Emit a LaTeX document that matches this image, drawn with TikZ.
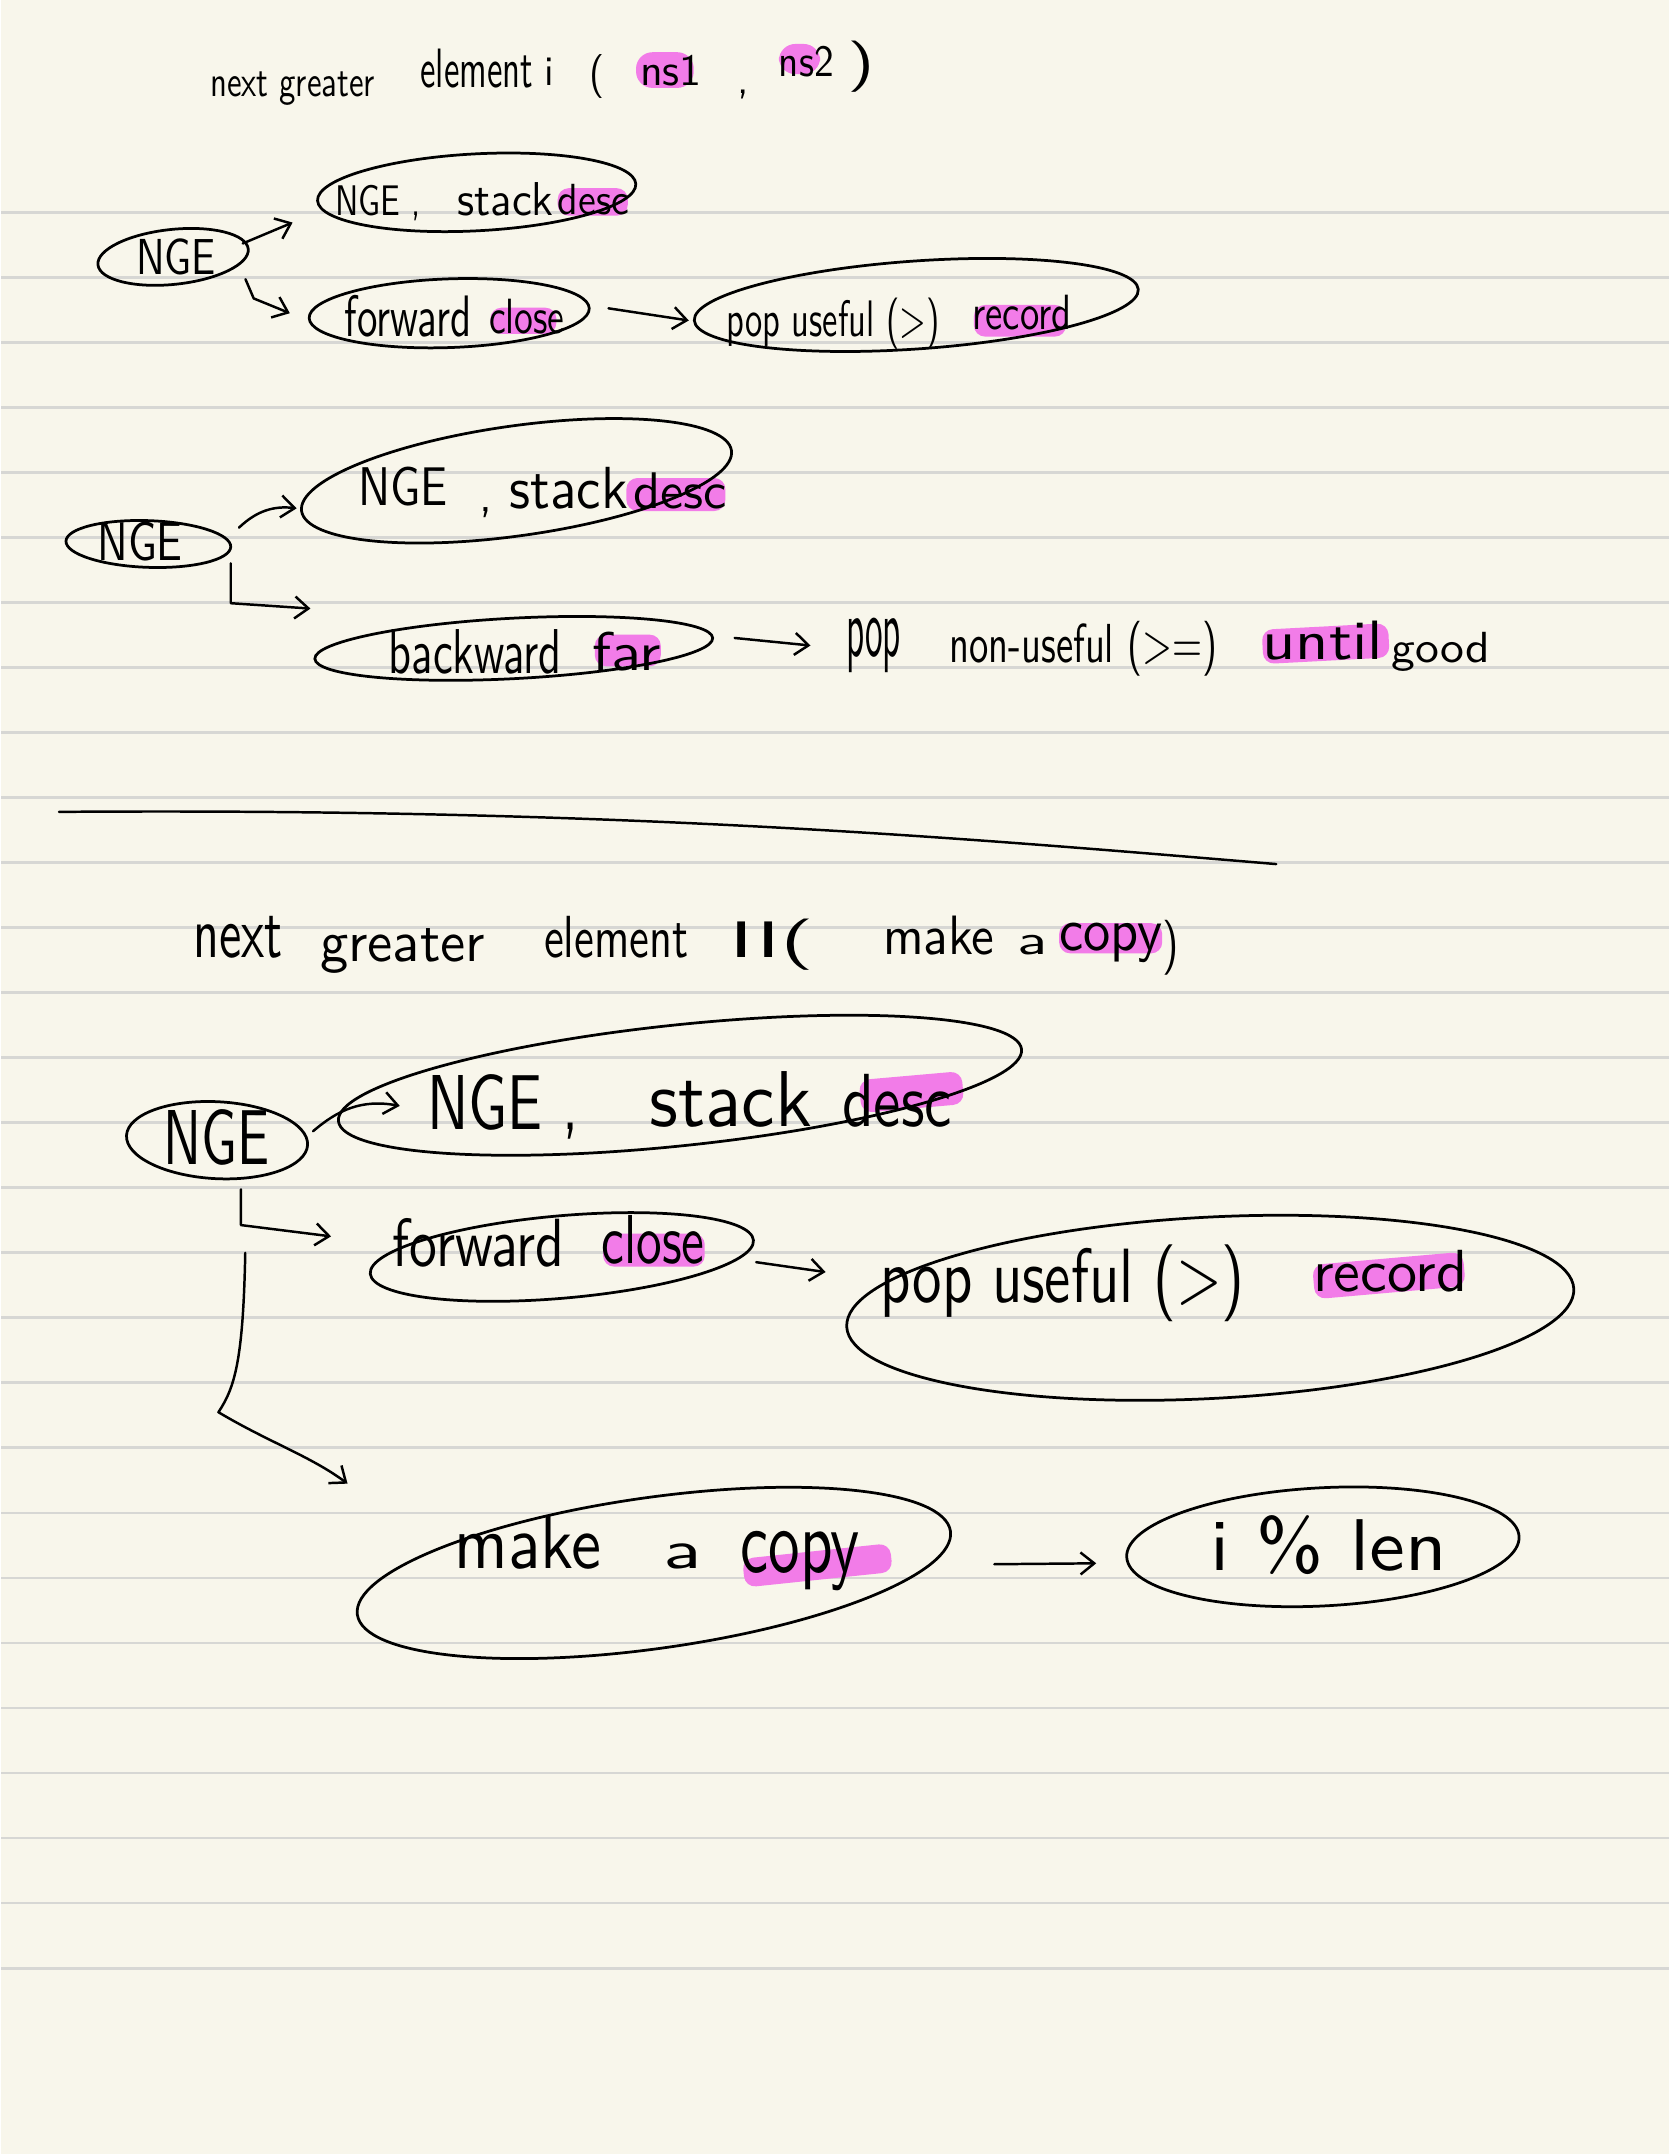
\documentclass[tikz,border=0pt]{standalone}
\usepackage{graphicx}
\usetikzlibrary{shapes.geometric,arrows.meta,calc}
\definecolor{paper}{HTML}{F8F6EB}
\definecolor{rulecol}{HTML}{D7D7D4}
\definecolor{hl}{HTML}{F27CE8}
\newlength\unitS
\setlength\unitS{0.5pt}
\newcommand{\hw}[3]{\resizebox{#1\unitS}{#2\unitS}{\sffamily #3}}
\tikzset{
  oval/.style={draw, ellipse, line width=1pt, inner sep=0pt, outer sep=0pt},
  txt/.style={inner sep=0pt, outer sep=0pt, anchor=base west},
  harrow/.style={draw, line width=0.9pt, line cap=round, line join=round, -{Straight Barb[length=5pt,width=8pt]}},
  pen/.style={line width=0.9pt, line cap=round},
  rulel/.style={rulecol, line width=1pt},
  hlbox/.style={fill=hl, rounded corners=4pt}
}
\begin{document}
\begin{tikzpicture}[x=0.5pt, y=-0.5pt]
\fill[paper] (0,0) rectangle (1214,1568);
\foreach \k in {0,...,27} \draw[rulel] (0,{154.5+47.34*\k}) -- (1214,{154.5+47.34*\k});

% highlights
\fill[hlbox, rounded corners=6pt] (462,38) rectangle (504,64);
\fill[hlbox, rounded corners=6pt] (566,32) rectangle (596,54);
\fill[hlbox] (405,137) rectangle (456,157);
\fill[hlbox] (356,224) rectangle (404,243);
\fill[hlbox] (708,222) rectangle (775,245);
\fill[hlbox] (455,348) rectangle (527,372);
\fill[hlbox] (432,462) rectangle (480,485);
\fill[hlbox, rotate around={3:(964,468)}] (918,456) rectangle (1010,481);
\fill[hlbox] (770,672) rectangle (845,694);
\fill[hlbox, rotate around={5:(662,795)}] (625,783) rectangle (700,807);
\fill[hlbox] (438,898) rectangle (512,922);
\fill[hlbox, rotate around={5:(1010,928)}] (955,916) rectangle (1065,941);
\fill[hlbox, rotate around={6:(594,1139)}] (540,1129) rectangle (648,1150);

% title 1
\node[txt] (t1a) at (152,70) {\hw{120}{18}{next greater}};
\node[txt] (t1b) at (305,64) {\hw{82}{28}{element}};
\node[txt] (t1c) at (395,62) {\hw{7}{20}{i}};
\node[txt] (t1d) at (428,64) {\hw{11}{24}{(}};
\node[txt] (t1e) at (465,62) {\hw{45}{22}{ns1}};
\node[txt, font=\sffamily\fontsize{16}{16}\selectfont] (t1f) at (536,68) {,};
\node[txt] (t1g) at (566,56) {\hw{40}{22}{ns2}};
\node[txt] (t1h) at (616,58) {\hw{20}{28}{)}};

% section 1
\node[oval, minimum width=55pt, minimum height=20pt, rotate=6] (nge1) at (125,187) {};
\node[oval, minimum width=116pt, minimum height=28pt, rotate=3] (desc1) at (346,140) {};
\node[oval, minimum width=102pt, minimum height=25pt, rotate=2] (fc1) at (326,228) {};
\node[oval, minimum width=162pt, minimum height=32pt, rotate=4] (pu1) at (666,222) {};
\node[txt] (n1t) at (98,200) {\hw{58}{26}{NGE}};
\node[txt] (d1a) at (243,157) {\hw{62}{22}{NGE ,}};
\node[txt] (d1b) at (332,157) {\hw{70}{24}{stack}};
\node[txt] (d1c) at (405,156) {\hw{52}{22}{desc}};
\node[txt] (f1a) at (250,245) {\hw{92}{30}{forward}};
\node[txt] (f1b) at (355,243) {\hw{55}{25}{close}};
\node[txt] (p1a) at (528,245) {\hw{155}{28}{pop useful (>)}};
\node[txt] (p1b) at (707,240) {\hw{72}{25}{record}};
\coordinate (a1h) at (212,162);
\coordinate (a2h) at (210,228);
\draw[harrow] ([xshift=-2pt,yshift=2pt]nge1.east) -- (a1h);
\draw[harrow] ([xshift=-1pt,yshift=-11pt]nge1.east) -- ++(6,14) -- (a2h);
\draw[harrow] ([xshift=7pt]fc1.east) -- ([xshift=-2pt]pu1.west);

% section 2
\node[oval, minimum width=60pt, minimum height=17pt, rotate=-2] (nge2) at (107,396) {};
\node[oval, minimum width=158pt, minimum height=40pt, rotate=8] (desc2) at (375,350) {};
\node[oval, minimum width=145pt, minimum height=22pt, rotate=3] (bf2) at (373,472) {};
\node[txt] (n2t) at (70,408) {\hw{62}{28}{NGE}};
\node[txt] (d2a) at (260,368) {\hw{65}{28}{NGE}};
\node[txt, font=\sffamily\fontsize{18}{18}\selectfont] (d2p) at (348,372) {,};
\node[txt] (d2b) at (370,370) {\hw{86}{30}{stack}};
\node[txt] (d2c) at (460,370) {\hw{68}{26}{desc}};
\node[txt] (b2a) at (282,490) {\hw{126}{32}{backward}};
\node[txt] (b2b) at (430,488) {\hw{50}{28}{far}};
\node[txt] (g2a) at (615,478) {\hw{40}{28}{pop}};
\node[txt] (g2b) at (690,482) {\hw{195}{30}{non-useful (>=)}};
\node[txt] (g2c) at (918,480) {\hw{88}{28}{until}};
\node[txt] (g2d) at (1012,482) {\hw{72}{22}{good}};
\coordinate (a4h) at (215,370);
\coordinate (a5h) at (225,443);
\draw[harrow] ([xshift=3pt,yshift=7pt]nge2.east) to[bend left=25] (a4h);
\draw[harrow] ([xshift=0pt,yshift=-6pt]nge2.east) -- ++(0,29) -- (a5h);
\draw[harrow] ([xshift=8pt]bf2.east) -- ([xshift=-13pt]g2a.west);

% divider
\coordinate (d0) at (42,591);
\coordinate (d1) at (928,629);
\draw[pen] (d0) .. controls (450,588) and (700,610) .. (d1);

% title 2
\node[txt] (t2a) at (140,697) {\hw{65}{30}{next}};
\node[txt] (t2b) at (232,700) {\hw{120}{24}{greater}};
\node[txt] (t2c) at (395,697) {\hw{105}{30}{element}};
\node[txt] (t2d) at (530,697) {\hw{62}{28}{II(}};
\node[txt] (t2e) at (642,695) {\hw{81}{28}{make}};
\node[txt] (t2f) at (740,695) {\hw{22}{14}{a}};
\node[txt] (t2g) at (770,692) {\hw{75}{20}{copy}};
\node[txt] (t2h) at (845,700) {\hw{12}{30}{)}};

% section 3
\node[oval, minimum width=66pt, minimum height=28pt, rotate=-3] (nge3) at (157,830) {};
\node[oval, minimum width=250pt, minimum height=44pt, rotate=6] (desc3) at (494,790) {};
\node[oval, minimum width=140pt, minimum height=30pt, rotate=5] (fc3) at (408,915) {};
\node[oval, minimum width=265pt, minimum height=66pt, rotate=3] (pu3) at (880,952) {};
\node[oval, minimum width=218pt, minimum height=55pt, rotate=8] (mc3) at (475,1145) {};
\node[oval, minimum width=143pt, minimum height=43pt, rotate=3] (il3) at (962,1126) {};
\node[txt] (n3t) at (118,848) {\hw{77}{40}{NGE}};
\node[txt] (d3a) at (310,822) {\hw{110}{40}{NGE ,}};
\node[txt] (d3b) at (472,820) {\hw{118}{40}{stack}};
\node[txt] (d3c) at (612,820) {\hw{80}{38}{desc}};
\node[txt] (f3a) at (285,922) {\hw{125}{35}{forward}};
\node[txt] (f3b) at (437,920) {\hw{75}{35}{close}};
\node[txt] (p3a) at (640,948) {\hw{265}{42}{pop useful (>)}};
\node[txt] (p3b) at (955,940) {\hw{112}{30}{record}};
\node[txt] (m3a) at (330,1142) {\hw{107}{38}{make}};
\node[txt] (m3b) at (482,1142) {\hw{28}{18}{a}};
\node[txt] (m3c) at (538,1145) {\hw{87}{30}{copy}};
\node[txt] (i3) at (880,1143) {\hw{172}{40}{i \% len}};
\coordinate (a6h) at (290,805);
\coordinate (a7h) at (240,900);
\coordinate (a8h) at (600,926);
\coordinate (a9h) at (252,1080);
\coordinate (a10h) at (797,1138);
\draw[harrow] ([xshift=2pt,yshift=5pt]nge3.east) .. controls (245,808) and (262,800) .. (a6h);
\draw[harrow] ([yshift=-4pt]nge3.-55) -- ++(0,26) -- (a7h);
\draw[harrow] ([xshift=1pt,yshift=-8pt]fc3.east) -- (a8h);
\draw[harrow] ([xshift=11pt,yshift=-27pt]nge3.south) .. controls (176,990) and (170,1010) .. (158,1028) .. controls (195,1050) and (225,1060) .. (a9h);
\draw[harrow] ([xshift=16pt,yshift=-12pt]mc3.east) -- (a10h);
\end{tikzpicture}
\end{document}
